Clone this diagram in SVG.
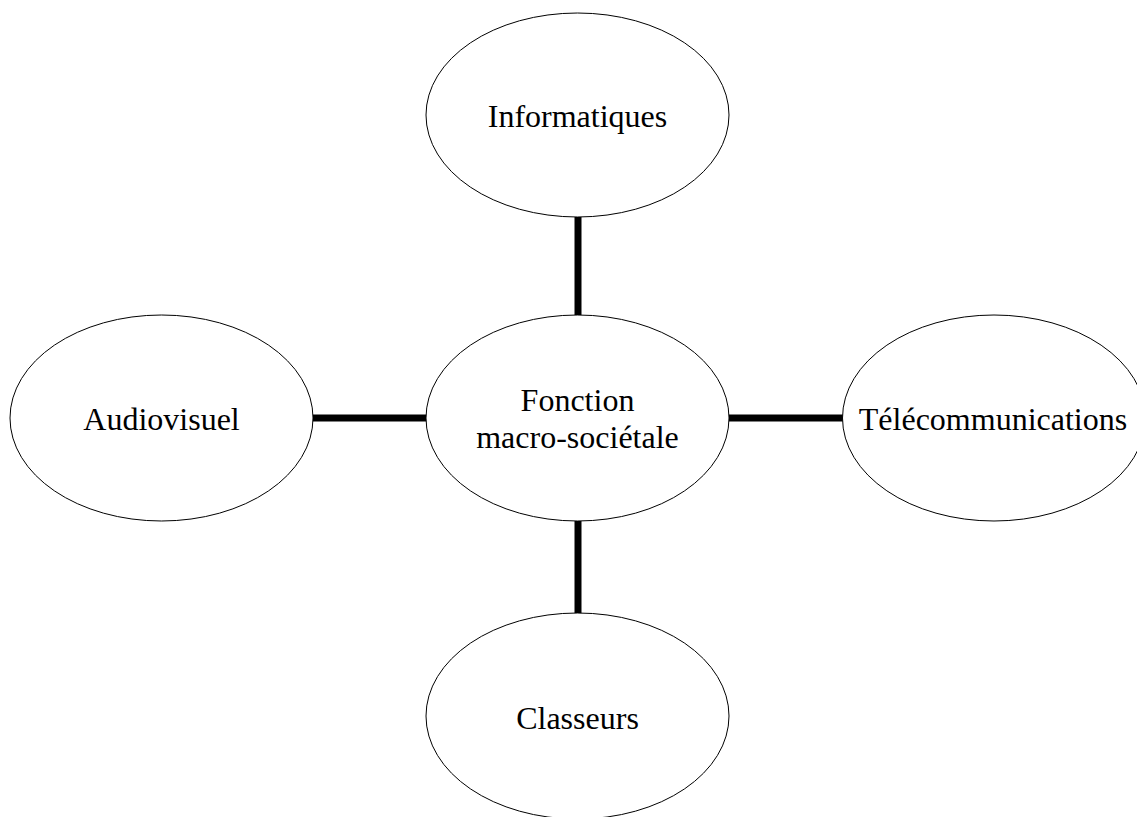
<svg xmlns="http://www.w3.org/2000/svg" width="1137" height="817" viewBox="0 0 1137 817">
<style>
.node ellipse{fill:#fff;stroke:#000;stroke-width:1}
.node text{font-family:"Liberation Serif","Times New Roman",serif;font-size:32px;fill:#000;text-anchor:middle}
.conn line{stroke:#000;stroke-width:7}
</style>
<rect width="1137" height="817" fill="#fff"/>
<g class="conn">
<line x1="578" y1="217" x2="578" y2="315"/>
<line x1="313" y1="418" x2="427" y2="418"/>
<line x1="729" y1="418" x2="843" y2="418"/>
<line x1="578" y1="521" x2="578" y2="618"/>
</g>
<g id="informatiques" class="node">
<ellipse cx="577.5" cy="115" rx="151.5" ry="102"/>
<text x="577.5" y="127">Informatiques</text>
</g>
<g id="centre" class="node">
<ellipse cx="577.5" cy="418" rx="151.5" ry="103"/>
<text x="577.5" y="410.5">Fonction</text>
<text x="577.5" y="447.5">macro-sociétale</text>
</g>
<g id="audiovisuel" class="node">
<ellipse cx="161.5" cy="418" rx="151.5" ry="103"/>
<text x="161.5" y="430">Audiovisuel</text>
</g>
<g id="telecommunications" class="node">
<ellipse cx="994" cy="418" rx="151.5" ry="103"/>
<text x="993" y="429.5">Télécommunications</text>
</g>
<g id="classeurs" class="node">
<ellipse cx="577.5" cy="716" rx="151.5" ry="103"/>
<text x="577.5" y="728.5">Classeurs</text>
</g>
</svg>
